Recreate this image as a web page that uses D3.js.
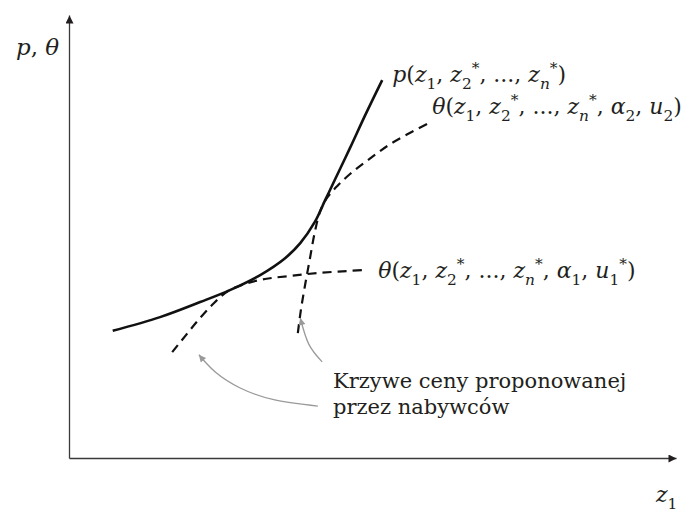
<!DOCTYPE html>
<html>
<head>
<meta charset="utf-8">
<script src="https://cdn.jsdelivr.net/npm/d3@7"></script>
<style>
  body { margin: 0; background: #fff; }
  text { font-family: "DejaVu Serif", "Liberation Serif", serif; fill: #231f20; }
</style>
</head>
<body>
<svg id="chart" width="692" height="513"></svg>
<script>
// Curves in axis units: z1 along x (0..10), p / θ along y (0..10)
const priceX   = [0.72, 1.50, 2.16, 2.65, 3.15, 3.56, 3.81, 4.05, 4.22, 4.38, 4.63, 4.88, 5.16];
const priceY   = [2.87, 3.18, 3.52, 3.79, 4.13, 4.51, 4.85, 5.33, 5.82, 6.28, 7.00, 7.74, 8.53];

const bid1X    = [1.70, 1.93, 2.16, 2.39, 2.62, 2.90, 3.23, 3.64, 4.14, 4.83];
const bid1Y    = [2.39, 2.78, 3.16, 3.50, 3.77, 3.93, 4.04, 4.11, 4.18, 4.24];

const bid2X    = [3.77, 3.82, 3.89, 3.97, 4.05, 4.14, 4.25, 4.42, 4.63, 4.93, 5.32, 5.90];
const bid2Y    = [2.82, 3.34, 3.91, 4.51, 5.10, 5.58, 5.87, 6.14, 6.41, 6.73, 7.11, 7.54];

// Gray pointers from the caption to the bid curves (tail first, tip last)
const pointerAX = [4.17, 3.95, 3.81];
const pointerAY = [2.17, 2.57, 3.16];
const pointerBX = [4.10, 3.39, 2.82, 2.41, 2.14];
const pointerBY = [1.17, 1.31, 1.58, 1.94, 2.33];

const captionLines = ["Krzywe ceny proponowanej", "przez nabywców"];

const zip = (xs, ys) => xs.map((v, i) => [v, ys[i]]);

const svg = d3.select("#chart");
const x = d3.scaleLinear().domain([0, 10]).range([69, 676]);
const y = d3.scaleLinear().domain([0, 10]).range([458, 15]);

// arrowheads
const defs = svg.append("defs");
defs.append("marker").attr("id", "axisHead")
  .attr("viewBox", "0 0 10 10").attr("refX", 10).attr("refY", 5)
  .attr("markerUnits", "userSpaceOnUse").attr("markerWidth", 11).attr("markerHeight", 8)
  .attr("orient", "auto")
  .append("path").attr("d", "M0,0L10,5L0,10z").attr("fill", "#231f20");
defs.append("marker").attr("id", "pointerHead")
  .attr("viewBox", "0 0 10 10").attr("refX", 10).attr("refY", 5)
  .attr("markerUnits", "userSpaceOnUse").attr("markerWidth", 9).attr("markerHeight", 7)
  .attr("orient", "auto")
  .append("path").attr("d", "M0,0L10,5L0,10z").attr("fill", "#9a9a9a");

// axes without ticks, each ending in an arrow
const xAxis = svg.append("g").attr("transform", `translate(0,${y(0)})`)
  .call(d3.axisBottom(x).ticks(0).tickSizeOuter(0));
const yAxis = svg.append("g").attr("transform", `translate(${x(0)},0)`)
  .call(d3.axisLeft(y).ticks(0).tickSizeOuter(0));
[xAxis, yAxis].forEach(a => a.select(".domain")
  .attr("stroke", "#3a3a3a").attr("stroke-width", 1.3)
  .attr("marker-end", "url(#axisHead)"));

const line = d3.line().x(d => x(d[0])).y(d => y(d[1])).curve(d3.curveCatmullRom.alpha(0.5));

svg.append("path").datum(zip(priceX, priceY))
  .attr("d", line).attr("fill", "none").attr("stroke", "#111").attr("stroke-width", 2.6);

[[bid1X, bid1Y], [bid2X, bid2Y]].forEach(([xs, ys]) => {
  svg.append("path").datum(zip(xs, ys))
    .attr("d", line).attr("fill", "none").attr("stroke", "#111")
    .attr("stroke-width", 2.2).attr("stroke-dasharray", "9,6");
});

const pointerLine = d3.line().x(d => x(d[0])).y(d => y(d[1])).curve(d3.curveNatural);
[[pointerAX, pointerAY], [pointerBX, pointerBY]].forEach(([xs, ys]) => {
  svg.append("path").datum(zip(xs, ys))
    .attr("d", pointerLine).attr("fill", "none").attr("stroke", "#9a9a9a")
    .attr("stroke-width", 1.3).attr("marker-end", "url(#pointerHead)");
});

// math labels: "i:" italic, "_" subscript, "^" superscript
function rich(px, py, tokens, size) {
  const t = svg.append("text").attr("x", px).attr("y", py).attr("font-size", size);
  let shift = 0;
  tokens.forEach(tok => {
    let s = tok, kind = "base";
    if (s[0] === "_") { kind = "sub"; s = s.slice(1); }
    else if (s[0] === "^") { kind = "sup"; s = s.slice(1); }
    let italic = false;
    if (s.startsWith("i:")) { italic = true; s = s.slice(2); }
    const target = kind === "sub" ? size * 0.3 : kind === "sup" ? -size * 0.4 : 0;
    const ts = t.append("tspan").attr("dy", target - shift).text(s);
    shift = target;
    if (kind !== "base") ts.attr("font-size", size * 0.7);
    if (italic) ts.attr("font-style", "italic");
  });
  return t;
}

const last = (xs, ys) => [x(xs[xs.length - 1]), y(ys[ys.length - 1])];

const [pEx, pEy] = last(priceX, priceY);
rich(pEx + 10, pEy + 2,
  ["i:p", "(", "i:z", "_1", ", ", "i:z", "_2", "^*", ", ..., ", "i:z", "_i:n", "^*", ")"], 22);

const [b2x, b2y] = last(bid2X, bid2Y);
rich(b2x + 5, b2y - 10,
  ["i:θ", "(", "i:z", "_1", ", ", "i:z", "_2", "^*", ", ..., ", "i:z", "_i:n", "^*", ", ", "i:α", "_2", ", ", "i:u", "_2", ")"], 22);

const [b1x, b1y] = last(bid1X, bid1Y);
rich(b1x + 16, b1y + 8,
  ["i:θ", "(", "i:z", "_1", ", ", "i:z", "_2", "^*", ", ..., ", "i:z", "_i:n", "^*", ", ", "i:α", "_1", ", ", "i:u", "_1", "^*", ")"], 22);

rich(16, 55, ["i:p", ", ", "i:θ"], 23);
rich(656, 502, ["i:z", "_1"], 22);

captionLines.forEach((s, i) => {
  svg.append("text").attr("x", 333).attr("y", 388 + i * 26).attr("font-size", 21).text(s);
});
</script>
</body>
</html>
